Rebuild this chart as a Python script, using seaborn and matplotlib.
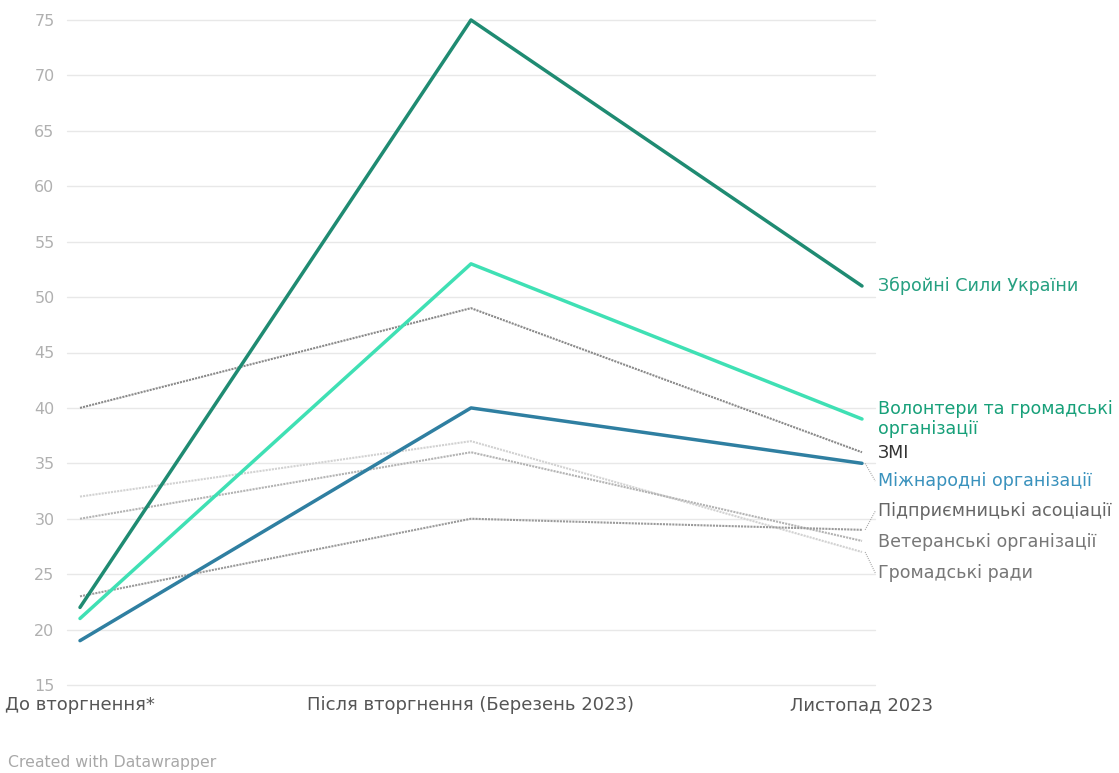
import matplotlib
matplotlib.use("Agg")
import matplotlib.pyplot as plt
import seaborn as sns
import pandas as pd

# Survey periods (x axis)
periods = ["До вторгнення*", "Після вторгнення (Березень 2023)", "Листопад 2023"]

# Trust levels per institution, %
series_names = [
    "Збройні Сили України",
    "Волонтери та громадські організації",
    "ЗМІ",
    "Міжнародні організації",
    "Підприємницькі асоціації",
    "Ветеранські організації",
    "Громадські ради",
]
zsu = [22, 75, 51]
volunteers = [21, 53, 39]
media = [40, 49, 36]
international = [19, 40, 35]
business = [23, 30, 29]
veterans = [30, 36, 28]
councils = [32, 37, 27]
values = [zsu, volunteers, media, international, business, veterans, councils]

# Label texts at the right end of each line
label_texts = [
    "Збройні Сили України",
    "Волонтери та громадські\nорганізації",
    "ЗМІ",
    "Міжнародні організації",
    "Підприємницькі асоціації",
    "Ветеранські організації",
    "Громадські ради",
]
# vertical placement of the end labels (in value units, spread to avoid overlap)
label_pos = [51, 39, 35.9, 33.4, 30.7, 27.9, 25.1]

line_colors = ["#1f8b72", "#3fe0b4", "#8a8a8a", "#2f7fa1", "#9a9a9a", "#b4b4b4", "#d2d2d2"]
text_colors = ["#26a081", "#17a079", "#333333", "#3a92bd", "#666666", "#777777", "#777777"]
widths = [2.5, 2.5, 1.5, 2.5, 1.5, 1.5, 1.5]
dash_styles = ["", "", (1, 0.5), "", (1, 0.5), (1, 0.5), (1, 0.5)]

rows = []
for name, vals in zip(series_names, values):
    for i, v in enumerate(vals):
        rows.append({"series": name, "x": i, "value": v})
df = pd.DataFrame(rows)

sns.set_theme(style="white")
plt.rcParams["font.family"] = ["DejaVu Sans"]

W, H = 1119, 773
fig = plt.figure(figsize=(W / 100, H / 100), dpi=100)
ax = fig.add_axes([67 / W, 1 - 685 / H, (875 - 67) / W, (685 - 20) / H])

sns.lineplot(
    data=df, x="x", y="value", hue="series", style="series", size="series",
    hue_order=series_names[::-1], style_order=series_names[::-1], size_order=series_names[::-1],
    palette=dict(zip(series_names, line_colors)),
    dashes=dict(zip(series_names, dash_styles)),
    sizes=dict(zip(series_names, widths)),
    legend=False, ax=ax, clip_on=False,
)

px_per_unit = (862 - 80) / 2
ax.set_xlim(-(80 - 67) / px_per_unit, 2 + (875 - 862) / px_per_unit)
ax.set_ylim(15, 75)
ax.set_yticks(range(15, 80, 5))
ax.set_xticks(range(len(periods)))
ax.set_xticklabels(periods)
ax.set_xlabel("")
ax.set_ylabel("")
ax.grid(axis="y", color="#e8e8e8", linewidth=1)
ax.grid(axis="x", visible=False)
for gl in ax.get_ygridlines():
    gl.set_clip_on(False)
ax.set_axisbelow(True)
for s in ax.spines.values():
    s.set_visible(False)
ax.tick_params(axis="y", length=0, pad=9, labelsize=11.5, labelcolor="#b0b0b0")
ax.tick_params(axis="x", length=0, pad=8, labelsize=13, labelcolor="#555555")

# End labels with short leader lines
x_text = 2.04
for txt, vals, ly, tc in zip(label_texts, values, label_pos, text_colors):
    end = vals[-1]
    if abs(ly - end) > 0.3:
        ax.plot([2.008, x_text - 0.006], [end, ly], color="#aaaaaa", lw=0.8,
                ls=(0, (1, 1)), clip_on=False)
    ax.text(x_text, ly, txt, color=tc, fontsize=12.6, va="center", ha="left",
            linespacing=1.1, clip_on=False)

fig.text(8 / W, 1 - 763 / H, "Created with Datawrapper", fontsize=11.3,
         color="#a8a8a8", ha="left", va="center")

fig.savefig("out.png", dpi=100, facecolor="white")
